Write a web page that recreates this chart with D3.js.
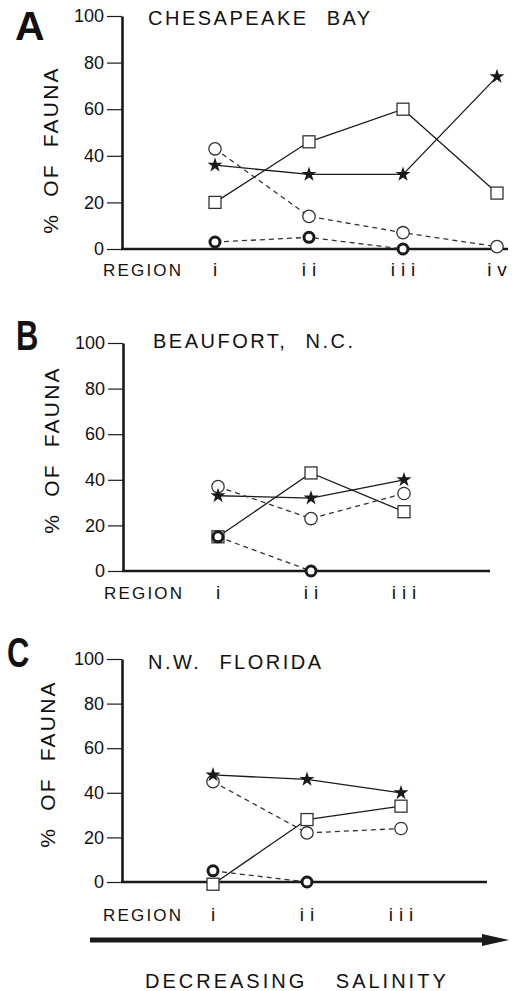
<!DOCTYPE html>
<html>
<head>
<meta charset="utf-8">
<script src="https://cdn.jsdelivr.net/npm/d3@7"></script>
<style>
  body { margin: 0; background: #fff; }
  text { font-family: "Liberation Sans", Arial, sans-serif; fill: #111; }
</style>
</head>
<body>
<svg id="chart" width="517" height="991"></svg>
<script>
// values (% of fauna per region)
const regionsA = ["i", "ii", "iii", "iv"];
const regionsBC = ["i", "ii", "iii"];
const yTicks = [0, 20, 40, 60, 80, 100];

const squaresA = [20, 46, 60, 24];
const starsA = [36, 32, 32, 74];
const openA = [43, 14, 7, 1];
const boldA = [3, 5, 0];

const squaresB = [15, 43, 26];
const starsB = [33, 32, 40];
const openB = [37, 23, 34];
const boldB = [15, 0];

const squaresC = [-1, 28, 34];
const starsC = [48, 46, 40];
const openC = [45, 22, 24];
const boldC = [5, 0];

const svg = d3.select("#chart");
const ink = "#1a1a1a";

// layout of each panel
const panels = [
  { letter: "A", title: "CHESAPEAKE BAY", regions: regionsA,
    squares: squaresA, stars: starsA, open: openA, bold: boldA,
    ax: 122, y0: 249, y100: 16, first: 215, step: 94, end: 508,
    labY: 276, titleX: 148, titleY: 25, letX: 15, letY: 40, ylabY: 150, ylabX: 58 },
  { letter: "B", title: "BEAUFORT, N.C.", regions: regionsBC,
    squares: squaresB, stars: starsB, open: openB, bold: boldB,
    ax: 123, y0: 571, y100: 343, first: 218, step: 93, end: 490,
    labY: 599, titleX: 153, titleY: 348, letX: 16, letY: 350, ylabY: 450, ylabX: 59 },
  { letter: "C", title: "N.W. FLORIDA", regions: regionsBC,
    squares: squaresC, stars: starsC, open: openC, bold: boldC,
    ax: 122, y0: 882, y100: 659, first: 213, step: 94, end: 487,
    labY: 921, titleX: 148, titleY: 669, letX: 7, letY: 667, ylabY: 764, ylabX: 55 }
];

panels.forEach(p => {
  const g = svg.append("g");
  const y = d3.scaleLinear().domain([0, 100]).range([p.y0, p.y100]);
  const x = d3.scaleLinear().domain([0, 1]).range([p.first, p.first + p.step]);

  // panel letter
  g.append("text")
    .attr("x", p.letX).attr("y", p.letY)
    .attr("font-size", p.letter === "A" ? 41 : 43)
    .attr("font-weight", "bold")
    .attr("transform", p.letter === "A" ? null : `translate(${p.letX},0) scale(0.72,1) translate(${-p.letX},0)`)
    .text(p.letter);

  // title
  g.append("text")
    .attr("x", p.titleX).attr("y", p.titleY)
    .attr("font-size", 20)
    .attr("letter-spacing", 2.5)
    .attr("word-spacing", 10)
    .text(p.title);

  // y axis
  const yAxis = g.append("g")
    .attr("transform", `translate(${p.ax},0)`)
    .call(d3.axisLeft(y).tickValues(yTicks).tickSize(15).tickPadding(3).tickSizeOuter(0));
  yAxis.select(".domain").attr("stroke", ink).attr("stroke-width", 2.6);
  yAxis.selectAll(".tick line").attr("stroke", ink).attr("stroke-width", 1.2);
  yAxis.selectAll(".tick text")
    .attr("font-size", 18)
    .attr("font-family", "Liberation Sans, Arial, sans-serif")
    .attr("fill", ink);

  // y axis label
  g.append("text")
    .attr("transform", `translate(${p.ylabX},${p.ylabY}) rotate(-90)`)
    .attr("text-anchor", "middle")
    .attr("font-size", 21)
    .attr("letter-spacing", 2.2)
    .attr("word-spacing", 8)
    .text("% OF FAUNA");

  // x baseline
  g.append("line")
    .attr("x1", p.ax - 1).attr("x2", p.end)
    .attr("y1", y(0)).attr("y2", y(0))
    .attr("stroke", ink).attr("stroke-width", 2.6);

  // region tick labels
  const xAxis = g.append("g")
    .attr("transform", `translate(0,${p.labY})`);
  xAxis.selectAll("text.reg")
    .data(p.regions)
    .join("text")
    .attr("class", "reg")
    .attr("x", (d, i) => x(i) + 3)
    .attr("y", 0)
    .attr("text-anchor", "middle")
    .attr("font-size", 19)
    .attr("letter-spacing", 6)
    .text(d => d);
  xAxis.append("text")
    .attr("x", p.ax - 19)
    .attr("y", 0)
    .attr("font-size", 17)
    .attr("letter-spacing", 2.2)
    .text("REGION");

  const line = d3.line().x((d, i) => x(i)).y(d => y(d));

  // connecting lines
  g.append("path").datum(p.squares).attr("d", line)
    .attr("fill", "none").attr("stroke", ink).attr("stroke-width", 1.3);
  g.append("path").datum(p.stars).attr("d", line)
    .attr("fill", "none").attr("stroke", ink).attr("stroke-width", 1.3);
  g.append("path").datum(p.open).attr("d", line)
    .attr("fill", "none").attr("stroke", "#333").attr("stroke-width", 1.3)
    .attr("stroke-dasharray", "5,4");
  g.append("path").datum(p.bold).attr("d", line)
    .attr("fill", "none").attr("stroke", "#333").attr("stroke-width", 1.3)
    .attr("stroke-dasharray", "5,4");

  // markers
  g.selectAll("rect.sq").data(p.squares).join("rect")
    .attr("class", "sq")
    .attr("x", (d, i) => x(i) - 6).attr("y", d => y(d) - 6)
    .attr("width", 12).attr("height", 12)
    .attr("fill", "#fff").attr("stroke", "#333").attr("stroke-width", 1.3);

  g.selectAll("circle.op").data(p.open).join("circle")
    .attr("class", "op")
    .attr("cx", (d, i) => x(i)).attr("cy", d => y(d))
    .attr("r", 6.2)
    .attr("fill", "#fff").attr("stroke", "#333").attr("stroke-width", 1.3);

  g.selectAll("circle.bd").data(p.bold).join("circle")
    .attr("class", "bd")
    .attr("cx", (d, i) => x(i)).attr("cy", d => y(d))
    .attr("r", 5)
    .attr("fill", "#fff").attr("stroke", ink).attr("stroke-width", 3);

  const star = d3.symbol().type(d3.symbolStar).size(70);
  g.selectAll("path.st").data(p.stars).join("path")
    .attr("class", "st")
    .attr("transform", (d, i) => `translate(${x(i)},${y(d)})`)
    .attr("d", star)
    .attr("fill", ink);
});

// salinity arrow
const arrowY = 940;
svg.append("line")
  .attr("x1", 90).attr("x2", 486)
  .attr("y1", arrowY).attr("y2", arrowY)
  .attr("stroke", ink).attr("stroke-width", 5);
svg.append("path")
  .attr("d", `M482,${arrowY - 6}L509,${arrowY}L482,${arrowY + 6}Z`)
  .attr("fill", ink);

svg.append("text")
  .attr("x", 145).attr("y", 988)
  .attr("font-size", 20)
  .attr("letter-spacing", 3)
  .attr("word-spacing", 20)
  .text("DECREASING SALINITY");
</script>
</body>
</html>
